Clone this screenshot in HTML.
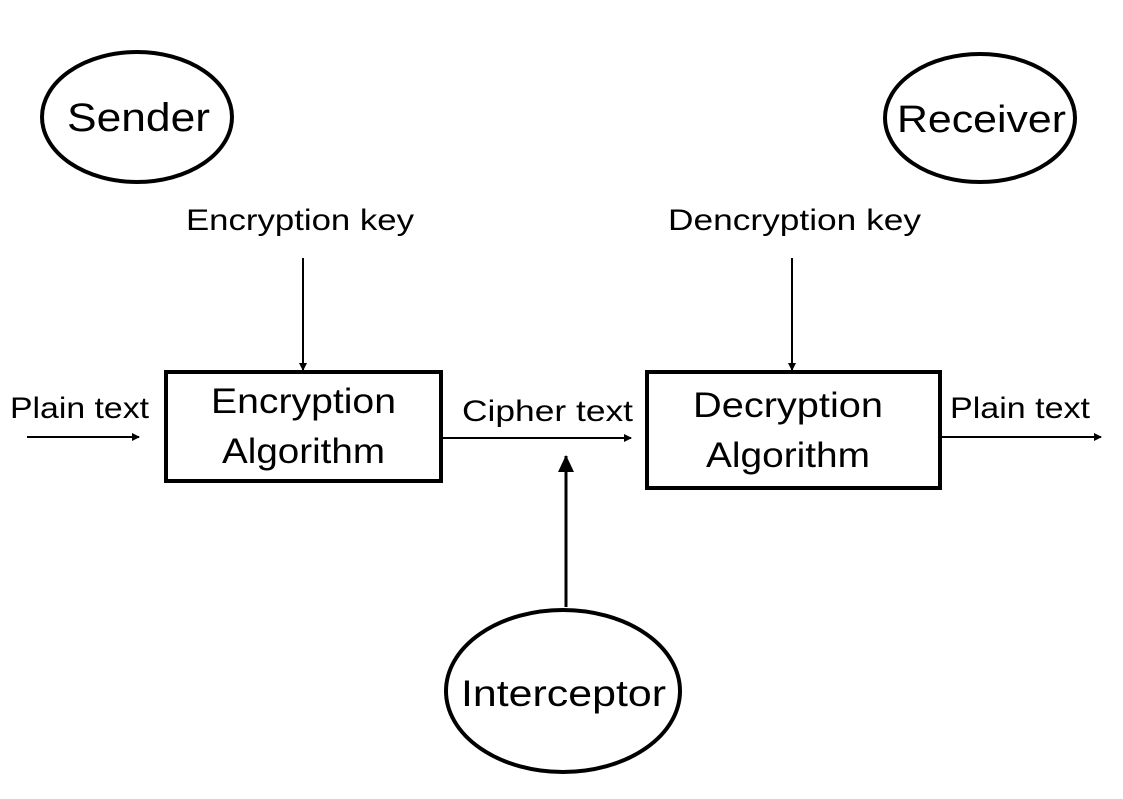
<!DOCTYPE html>
<html><head><style>body{margin:0;background:#fff}</style></head><body>
<svg width="1123" height="794" viewBox="0 0 1123 794" xmlns="http://www.w3.org/2000/svg" font-family="Liberation Sans, sans-serif" fill="#000">
<defs>
<marker id="a" markerWidth="8" markerHeight="8" refX="7" refY="4" orient="auto" markerUnits="userSpaceOnUse"><path d="M0,0 L8,4 L0,8z"/></marker>
<marker id="b" markerWidth="18" markerHeight="18" refX="16" refY="8" orient="auto" markerUnits="userSpaceOnUse"><path d="M0,0 L17,8 L0,16z"/></marker>
</defs>
<g fill="none" stroke="#000" stroke-width="4">
<ellipse cx="137" cy="117" rx="95" ry="65"/>
<ellipse cx="980" cy="118" rx="95" ry="64"/>
<ellipse cx="563" cy="691" rx="117" ry="81"/>
<rect x="166" y="372" width="275" height="109"/>
<rect x="647" y="372" width="293" height="116"/>
</g>
<g stroke="#000" stroke-width="2">
<line x1="27" y1="437" x2="139" y2="437" marker-end="url(#a)"/>
<line x1="441" y1="438" x2="631" y2="438" marker-end="url(#a)"/>
<line x1="940" y1="437" x2="1101" y2="437" marker-end="url(#a)"/>
<line x1="303" y1="258" x2="303" y2="370" marker-end="url(#a)"/>
<line x1="792" y1="258" x2="792" y2="370" marker-end="url(#a)"/>
<line x1="566" y1="607" x2="566" y2="456" stroke-width="3" marker-end="url(#b)"/>
</g>
<g lengthAdjust="spacingAndGlyphs">
<text x="67" y="131" font-size="40" textLength="143" lengthAdjust="spacingAndGlyphs">Sender</text>
<text x="897" y="132" font-size="38" textLength="169" lengthAdjust="spacingAndGlyphs">Receiver</text>
<text x="461" y="706" font-size="37" textLength="205" lengthAdjust="spacingAndGlyphs">Interceptor</text>
<text x="186" y="230" font-size="30" textLength="228" lengthAdjust="spacingAndGlyphs">Encryption key</text>
<text x="668" y="230" font-size="30" textLength="253" lengthAdjust="spacingAndGlyphs">Dencryption key</text>
<text x="211" y="413" font-size="35" textLength="185" lengthAdjust="spacingAndGlyphs">Encryption</text>
<text x="222" y="463" font-size="35" textLength="163" lengthAdjust="spacingAndGlyphs">Algorithm</text>
<text x="693" y="417" font-size="35" textLength="190" lengthAdjust="spacingAndGlyphs">Decryption</text>
<text x="706" y="467" font-size="35" textLength="164" lengthAdjust="spacingAndGlyphs">Algorithm</text>
<text x="10" y="418" font-size="30" textLength="139" lengthAdjust="spacingAndGlyphs">Plain text</text>
<text x="462" y="421" font-size="30" textLength="171" lengthAdjust="spacingAndGlyphs">Cipher text</text>
<text x="950" y="418" font-size="30" textLength="140" lengthAdjust="spacingAndGlyphs">Plain text</text>
</g>
</svg>
</body></html>
